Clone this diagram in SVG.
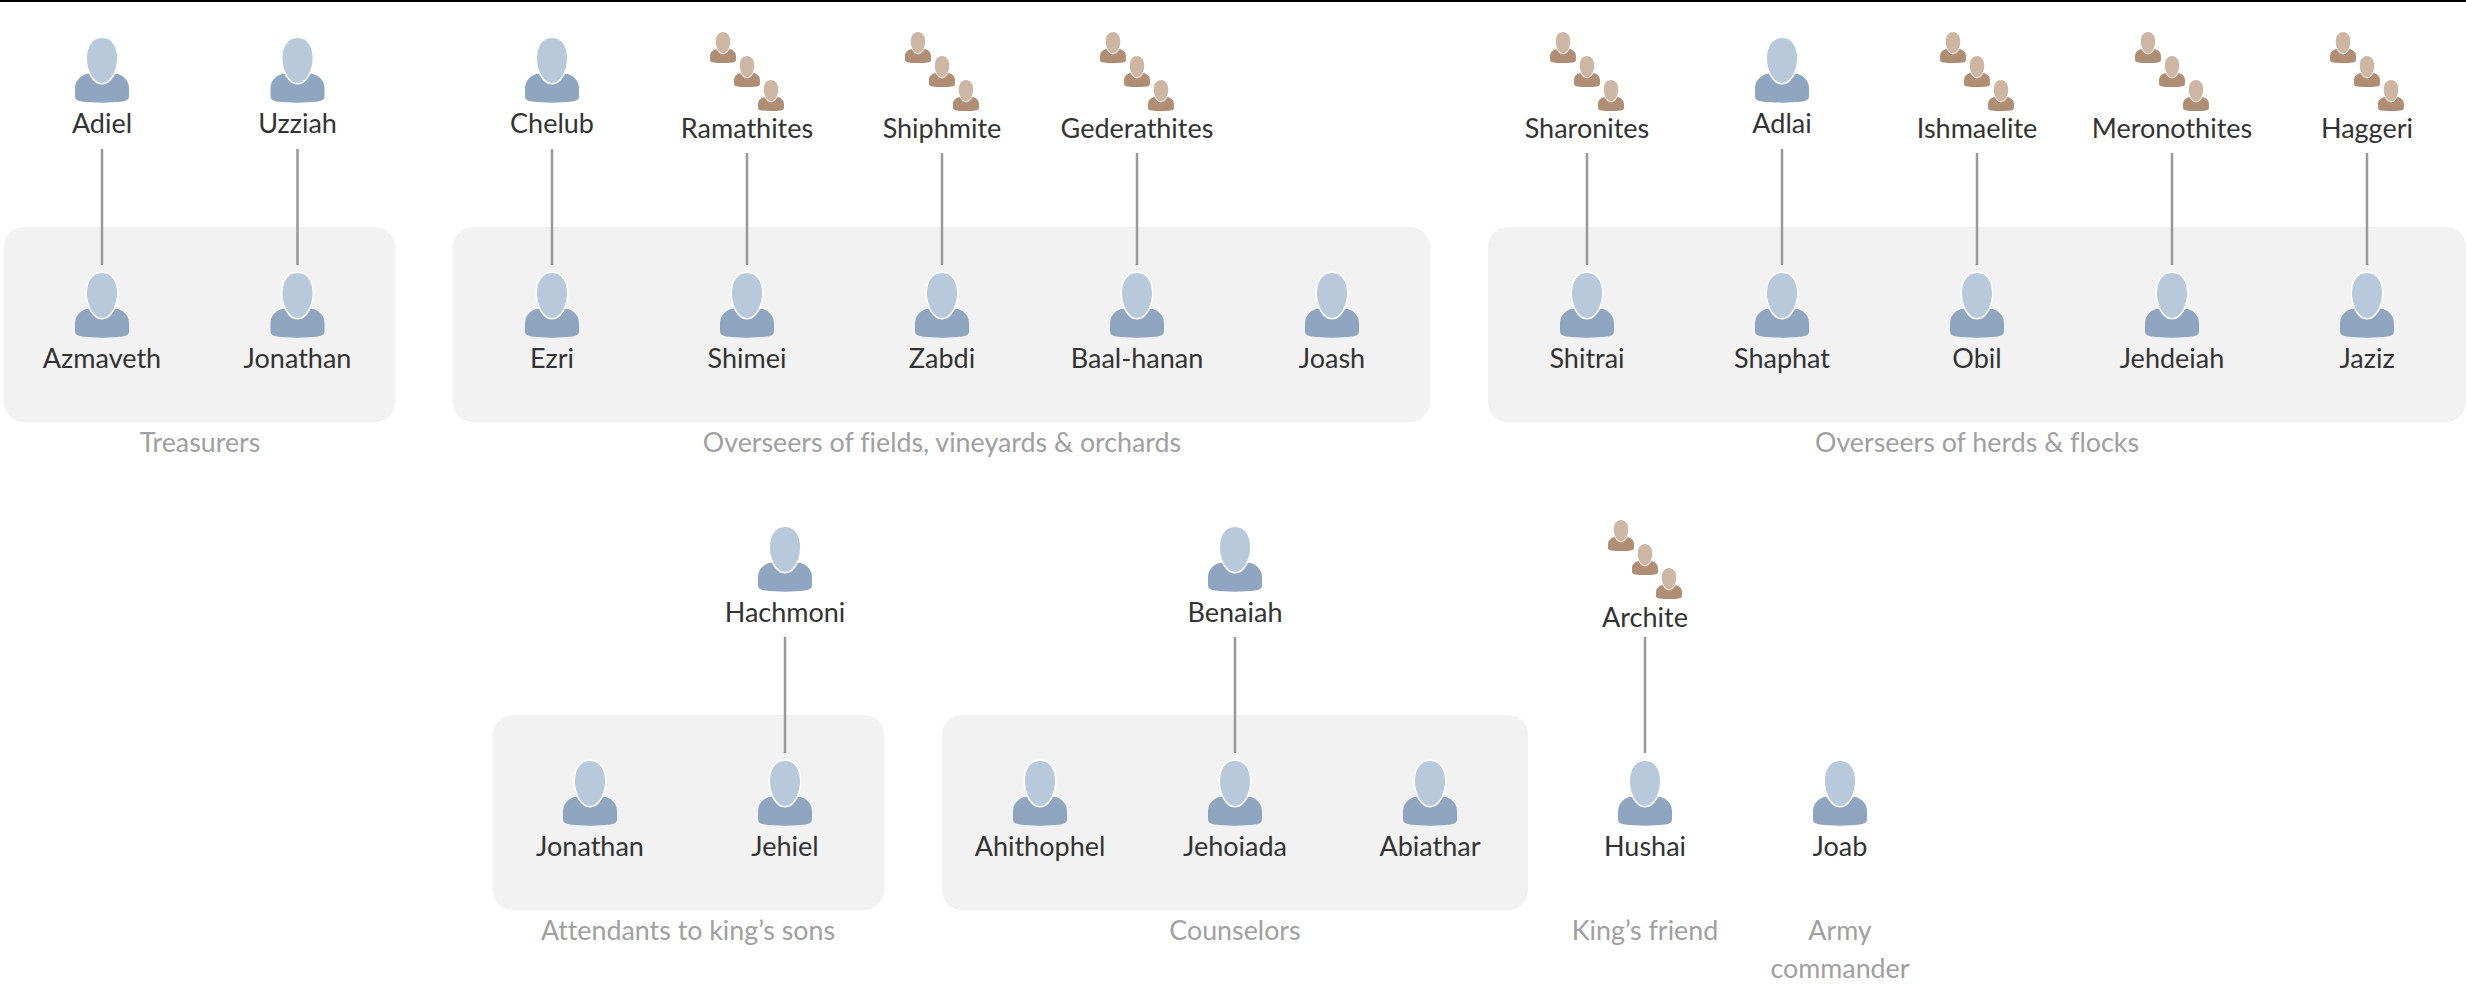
<svg xmlns="http://www.w3.org/2000/svg" width="2466" height="1005" viewBox="0 0 2466 1005">
<style>
text{font-family:"Lato","Noto Sans",sans-serif;text-anchor:middle;font-variant-ligatures:none}
.n{font-size:27px;fill:#333}
.c{font-size:26.800px;fill:#a0a0a0}
.box{fill:#f2f2f2}
.hd{stroke:#fff;stroke-width:3;paint-order:stroke}
#connectors line{stroke:#999;stroke-width:2.500}
</style>
<defs>
<g id="p"><path fill="#8fa5c0" d="M-16,36C-22,38-27,43-27,50L-27,58C-27,62-24,63-20,63.5C-8,65 8,65 20,63.5C24,63 27,62 27,58L27,50C27,43 22,38 16,36Z"/><path class="hd" fill="#b7c9da" d="M0,0C10,0 15,9 15,20C15,33 8,45 0,45C-8,45-15,33-15,20C-15,9-10,0 0,0Z"/></g>
<g id="t"><path fill="#b08d75" d="M-16,36C-22,38-27,43-27,50L-27,58C-27,62-24,63-20,63.5C-8,65 8,65 20,63.5C24,63 27,62 27,58L27,50C27,43 22,38 16,36Z"/><path class="hd" fill="#cdb7a4" d="M0,0C10,0 15,9 15,20C15,33 8,45 0,45C-8,45-15,33-15,20C-15,9-10,0 0,0Z"/></g>
<g id="g"><use href="#t" transform="translate(-24,0) scale(.48)"/><use href="#t" transform="translate(0,24) scale(.48)"/><use href="#t" transform="translate(24,48) scale(.48)"/></g>
</defs>
<rect width="2466" height="1005" fill="#fff"/>
<rect width="2466" height="2" fill="#000"/>
<g id="groups">
<rect class="box" x="4" y="227" width="391" height="195" rx="20"/>
<rect class="box" x="453" y="227" width="977" height="195" rx="20"/>
<rect class="box" x="1488" y="227" width="978" height="195" rx="20"/>
<rect class="box" x="493" y="715" width="391" height="195" rx="20"/>
<rect class="box" x="942" y="715" width="586" height="195" rx="20"/>
</g>
<g id="connectors">
<line x1="102" y1="149" x2="102" y2="265"/><line x1="297.500" y1="149" x2="297.500" y2="265"/>
<line x1="552" y1="149" x2="552" y2="265"/><line x1="747" y1="153" x2="747" y2="265"/><line x1="942" y1="153" x2="942" y2="265"/><line x1="1137" y1="153" x2="1137" y2="265"/>
<line x1="1587" y1="153" x2="1587" y2="265"/><line x1="1782" y1="149" x2="1782" y2="265"/><line x1="1977" y1="153" x2="1977" y2="265"/><line x1="2172" y1="153" x2="2172" y2="265"/><line x1="2367" y1="153" x2="2367" y2="265"/>
<line x1="785" y1="637" x2="785" y2="753"/><line x1="1235" y1="637" x2="1235" y2="753"/><line x1="1645" y1="637" x2="1645" y2="753"/>
</g>
<g id="adiel"><use href="#p" x="102" y="38"/><text class="n" x="102" y="133">Adiel</text></g>
<g id="uzziah"><use href="#p" x="297.500" y="38"/><text class="n" x="297.500" y="133">Uzziah</text></g>
<g id="azmaveth"><use href="#p" x="102" y="273"/><text class="n" x="102" y="368">Azmaveth</text></g>
<g id="jonathan1"><use href="#p" x="297.500" y="273"/><text class="n" x="297.500" y="368">Jonathan</text></g>
<g id="chelub"><use href="#p" x="552" y="38"/><text class="n" x="552" y="133">Chelub</text></g>
<g id="ramathites"><use href="#g" x="747" y="32"/><text class="n" x="747" y="138">Ramathites</text></g>
<g id="shiphmite"><use href="#g" x="942" y="32"/><text class="n" x="942" y="138">Shiphmite</text></g>
<g id="gederathites"><use href="#g" x="1137" y="32"/><text class="n" x="1137" y="138">Gederathites</text></g>
<g id="ezri"><use href="#p" x="552" y="273"/><text class="n" x="552" y="368">Ezri</text></g>
<g id="shimei"><use href="#p" x="747" y="273"/><text class="n" x="747" y="368">Shimei</text></g>
<g id="zabdi"><use href="#p" x="942" y="273"/><text class="n" x="942" y="368">Zabdi</text></g>
<g id="baal-hanan"><use href="#p" x="1137" y="273"/><text class="n" x="1137" y="368">Baal-hanan</text></g>
<g id="joash"><use href="#p" x="1332" y="273"/><text class="n" x="1332" y="368">Joash</text></g>
<g id="sharonites"><use href="#g" x="1587" y="32"/><text class="n" x="1587" y="138">Sharonites</text></g>
<g id="adlai"><use href="#p" x="1782" y="38"/><text class="n" x="1782" y="133">Adlai</text></g>
<g id="ishmaelite"><use href="#g" x="1977" y="32"/><text class="n" x="1977" y="138">Ishmaelite</text></g>
<g id="meronothites"><use href="#g" x="2172" y="32"/><text class="n" x="2172" y="138">Meronothites</text></g>
<g id="haggeri"><use href="#g" x="2367" y="32"/><text class="n" x="2367" y="138">Haggeri</text></g>
<g id="shitrai"><use href="#p" x="1587" y="273"/><text class="n" x="1587" y="368">Shitrai</text></g>
<g id="shaphat"><use href="#p" x="1782" y="273"/><text class="n" x="1782" y="368">Shaphat</text></g>
<g id="obil"><use href="#p" x="1977" y="273"/><text class="n" x="1977" y="368">Obil</text></g>
<g id="jehdeiah"><use href="#p" x="2172" y="273"/><text class="n" x="2172" y="368">Jehdeiah</text></g>
<g id="jaziz"><use href="#p" x="2367" y="273"/><text class="n" x="2367" y="368">Jaziz</text></g>
<g id="hachmoni"><use href="#p" x="785" y="527"/><text class="n" x="785" y="622">Hachmoni</text></g>
<g id="benaiah"><use href="#p" x="1235" y="527"/><text class="n" x="1235" y="622">Benaiah</text></g>
<g id="archite"><use href="#g" x="1645" y="520"/><text class="n" x="1645" y="627">Archite</text></g>
<g id="jonathan2"><use href="#p" x="590" y="761"/><text class="n" x="590" y="856">Jonathan</text></g>
<g id="jehiel"><use href="#p" x="785" y="761"/><text class="n" x="785" y="856">Jehiel</text></g>
<g id="ahithophel"><use href="#p" x="1040" y="761"/><text class="n" x="1040" y="856">Ahithophel</text></g>
<g id="jehoiada"><use href="#p" x="1235" y="761"/><text class="n" x="1235" y="856">Jehoiada</text></g>
<g id="abiathar"><use href="#p" x="1430" y="761"/><text class="n" x="1430" y="856">Abiathar</text></g>
<g id="hushai"><use href="#p" x="1645" y="761"/><text class="n" x="1645" y="856">Hushai</text></g>
<g id="joab"><use href="#p" x="1840" y="761"/><text class="n" x="1840" y="856">Joab</text></g>
<g id="captions">
<text class="c" x="200" y="452">Treasurers</text>
<text class="c" x="942" y="452">Overseers of fields, vineyards &amp; orchards</text>
<text class="c" x="1977" y="452">Overseers of herds &amp; flocks</text>
<text class="c" x="688" y="940">Attendants to king’s sons</text>
<text class="c" x="1235" y="940">Counselors</text>
<text class="c" x="1645" y="940">King’s friend</text>
<text class="c" x="1840" y="940">Army</text>
<text class="c" x="1840" y="978">commander</text>
</g>
</svg>
